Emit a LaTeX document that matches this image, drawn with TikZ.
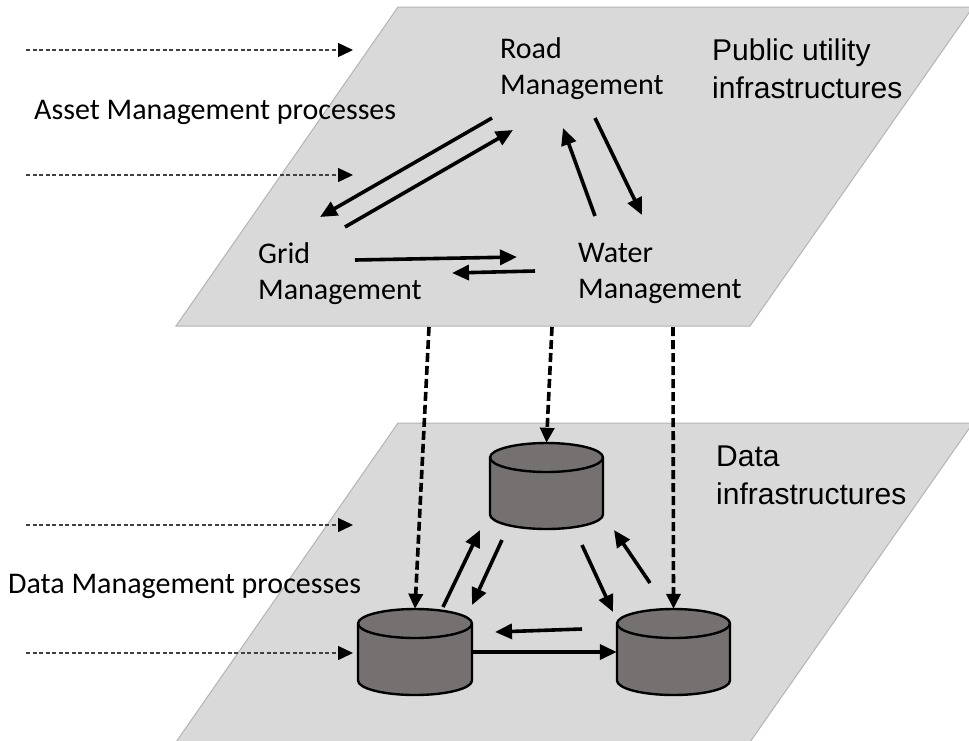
\documentclass[tikz,border=0pt]{standalone}
\usepackage{fontspec}
\setmainfont{Carlito}
\newfontfamily\arialf{Liberation Sans}
\usetikzlibrary{arrows.meta}
\definecolor{planefill}{HTML}{D9D9D9}
\definecolor{planeline}{HTML}{B4B4B4}
\definecolor{cylfill}{HTML}{767171}
\definecolor{thindash}{HTML}{404040}
\tikzset{
  plane/.style={fill=planefill, draw=planeline, line width=1pt},
  cylstyle/.style={fill=cylfill, draw=black, line width=2.4pt},
  flowarrow/.style={draw=black, line width=3.6pt, -{Triangle[length=17pt,width=15pt]}},
  linkarrow/.style={draw=black, line width=3.6pt, dash pattern=on 9pt off 4pt, -{Triangle[length=15pt,width=14pt]}},
  procarrow/.style={draw=thindash, line width=1.4pt, dash pattern=on 4pt off 2.5pt, -{Triangle[length=15pt,width=14pt,black]}},
  calib/.style={font=\fontsize{30}{36}\selectfont, inner sep=0pt, anchor=base west, align=left},
  arialtxt/.style={font=\arialf\fontsize{30}{37.3}\selectfont, inner sep=0pt, anchor=base west, align=left},
}
\newcommand\dbcyl[5]{% name, cx, rx, ytop centre, ybottom centre
  \filldraw[cylstyle] (#2-#3,#4) -- (#2-#3,#5)
    arc[start angle=180,end angle=360,x radius=#3pt,y radius=14.5pt]
    -- (#2+#3,#4)
    arc[start angle=0,end angle=180,x radius=#3pt,y radius=14.5pt] -- cycle;
  \draw[cylstyle, fill=none] (#2-#3,#4)
    arc[start angle=180,end angle=360,x radius=#3pt,y radius=14.5pt];
  \node[inner sep=0pt, minimum width=2*#3pt, minimum height=#5-#4+29pt] (#1) at (#2,{(#4+#5)/2}) {};
}
\begin{document}
\begin{tikzpicture}[x=1pt,y=-1pt]
\useasboundingbox (0,0) rectangle (969,740);
% planes
\draw[plane] (398,7) -- (973,7) -- (750,326) -- (176,326) -- cycle;
\draw[plane] (398,423) -- (973,423) -- (750,742) -- (176,742) -- cycle;

% top layer labels (anchor at baseline of the last line)
\node[calib] (road) at (500,94) {Road\\Management};
\node[calib] (grid) at (258,299) {Grid\\Management};
\node[calib] (water) at (578,298) {Water\\Management};
\node[arialtxt] (pui) at (712,98) {Public utility\\infrastructures};
\node[calib] (amp) at (34,119.3) {Asset Management processes};

% bottom layer
\dbcyl{dbT}{546.5}{56.5}{457.5}{514.5}
\dbcyl{dbL}{415}{57}{623.5}{680.5}
\dbcyl{dbR}{673.5}{56.5}{623.5}{680.5}
\node[arialtxt] (di) at (716,504) {Data\\infrastructures};
\node[calib] (dmp) at (8,593) {Data Management processes};

% coordinates for connector ends
\coordinate (a1s) at (492,118); \coordinate (a1e) at (320,217);
\coordinate (a2s) at (345,227); \coordinate (a2e) at (513,130);
\coordinate (a3s) at (595,216); \coordinate (a3e) at (563,128);
\coordinate (a4s) at (595,118); \coordinate (a4e) at (642,215);
\coordinate (a5s) at (355,260); \coordinate (a5e) at (517,257);
\coordinate (a6s) at (535,271); \coordinate (a6e) at (452,273);

\coordinate (b1s) at (443,607); \coordinate (b1e) at (480,530);
\coordinate (b2s) at (502,540); \coordinate (b2e) at (472,605);
\coordinate (b3s) at (582,545); \coordinate (b3e) at (613,612);
\coordinate (b4s) at (650,583); \coordinate (b4e) at (614,530);
\coordinate (b5s) at (582,629); \coordinate (b5e) at (495,632);

\coordinate (d1s) at (429,327);
\coordinate (d2s) at (552,327);
\coordinate (d3s) at (673,327);

\coordinate (t1s) at (26,50);  \coordinate (t1e) at (353,50);
\coordinate (t2s) at (26,175); \coordinate (t2e) at (353,175);
\coordinate (t3s) at (26,525); \coordinate (t3e) at (353,525);
\coordinate (t4s) at (26,653); \coordinate (t4e) at (353,653);

% top layer arrows
\draw[flowarrow] (a1s) -- (a1e);
\draw[flowarrow] (a2s) -- (a2e);
\draw[flowarrow] (a3s) -- (a3e);
\draw[flowarrow] (a4s) -- (a4e);
\draw[flowarrow] (a5s) -- (a5e);
\draw[flowarrow] (a6s) -- (a6e);

% bottom layer arrows
\draw[flowarrow] (b1s) -- (b1e);
\draw[flowarrow] (b2s) -- (b2e);
\draw[flowarrow] (b3s) -- (b3e);
\draw[flowarrow] (b4s) -- (b4e);
\draw[flowarrow] (b5s) -- (b5e);
\draw[flowarrow] (dbL.east) -- (dbR.west);

% links between layers
\draw[linkarrow] (d1s) -- (dbL.north);
\draw[linkarrow] (d2s) -- (dbT.north);
\draw[linkarrow] (d3s) -- (dbR.north);

% process arrows
\draw[procarrow] (t1s) -- (t1e);
\draw[procarrow] (t2s) -- (t2e);
\draw[procarrow] (t3s) -- (t3e);
\draw[procarrow] (t4s) -- (t4e);
\end{tikzpicture}
\end{document}
